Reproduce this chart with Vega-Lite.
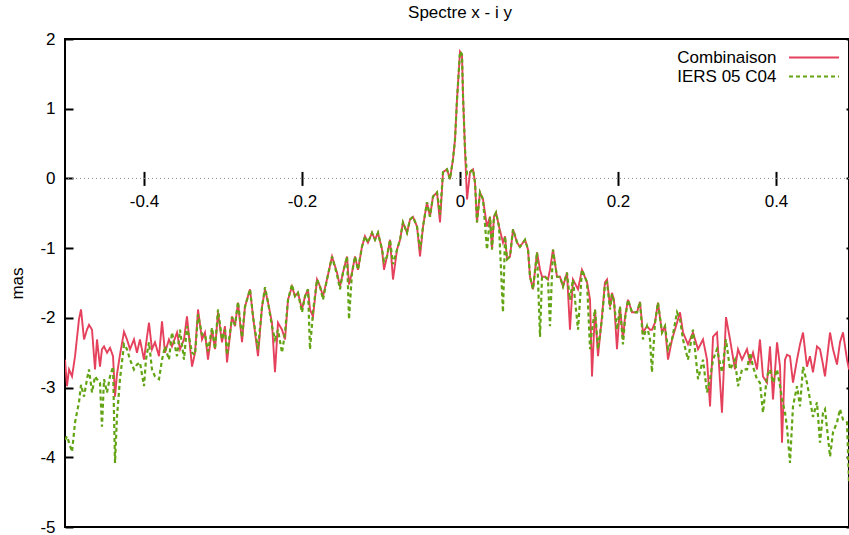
{
 "$schema": "https://vega.github.io/schema/vega-lite/v6.json",
 "width": 784, "height": 488,
 "autosize": {"type": "none"},
 "padding": {"left": 65, "top": 39, "right": 0, "bottom": 8},
 "background": "white",
 "title": {"text": "Spectre x - i y", "fontSize": 17, "font": "Liberation Sans", "fontWeight": "normal", "color": "black", "offset": 8, "dx": 3},
 "config": {"view": {"stroke": "black", "strokeWidth": 2}, "font": "Liberation Sans"},
 "datasets": {"spec": [
  {"x": -0.5, "c": -2.6, "i": -3.75}, {"x": -0.4975, "c": -2.98, "i": -3.7}, {"x": -0.4949, "c": -2.74, "i": -3.79},
  {"x": -0.4911, "c": -2.84, "i": -3.92}, {"x": -0.4873, "c": -2.55, "i": -3.5}, {"x": -0.4823, "c": -2.02, "i": -3.21},
  {"x": -0.4797, "c": -1.88, "i": -2.96}, {"x": -0.4759, "c": -2.31, "i": -3.13}, {"x": -0.4722, "c": -2.17, "i": -2.88},
  {"x": -0.4696, "c": -2.1, "i": -2.74}, {"x": -0.4658, "c": -2.17, "i": -3.07}, {"x": -0.462, "c": -2.74, "i": -2.84},
  {"x": -0.4595, "c": -2.31, "i": -2.88}, {"x": -0.4557, "c": -2.7, "i": -2.93}, {"x": -0.4532, "c": -2.45, "i": -3.56},
  {"x": -0.4506, "c": -2.41, "i": -2.88}, {"x": -0.4468, "c": -2.5, "i": -3.07}, {"x": -0.443, "c": -2.43, "i": -2.84},
  {"x": -0.4392, "c": -2.55, "i": -2.7}, {"x": -0.4367, "c": -3.13, "i": -4.08}, {"x": -0.4342, "c": -2.81, "i": -3.42},
  {"x": -0.4304, "c": -2.53, "i": -2.88}, {"x": -0.4253, "c": -2.2, "i": -2.38}, {"x": -0.4215, "c": -2.31, "i": -2.45},
  {"x": -0.4177, "c": -2.45, "i": -2.6}, {"x": -0.4127, "c": -2.31, "i": -2.74}, {"x": -0.4089, "c": -2.5, "i": -2.67},
  {"x": -0.4051, "c": -2.31, "i": -2.64}, {"x": -0.4, "c": -2.6, "i": -2.98}, {"x": -0.3975, "c": -2.38, "i": -2.6},
  {"x": -0.3937, "c": -2.07, "i": -2.35}, {"x": -0.3899, "c": -2.45, "i": -2.74}, {"x": -0.3861, "c": -2.35, "i": -2.84},
  {"x": -0.381, "c": -2.55, "i": -2.88}, {"x": -0.3772, "c": -2.05, "i": -2.6}, {"x": -0.3734, "c": -2.5, "i": -2.41},
  {"x": -0.3684, "c": -2.31, "i": -2.6}, {"x": -0.3646, "c": -2.41, "i": -2.21}, {"x": -0.3582, "c": -2.21, "i": -2.55},
  {"x": -0.3544, "c": -2.45, "i": -2.17}, {"x": -0.3494, "c": -2.31, "i": -2.6}, {"x": -0.3456, "c": -1.98, "i": -2.12},
  {"x": -0.3392, "c": -2.7, "i": -2.5}, {"x": -0.3354, "c": -2.5, "i": -2.53}, {"x": -0.3316, "c": -1.88, "i": -1.95},
  {"x": -0.3266, "c": -2.31, "i": -2.24}, {"x": -0.3228, "c": -2.21, "i": -2.24}, {"x": -0.319, "c": -2.6, "i": -2.48},
  {"x": -0.3139, "c": -2.17, "i": -2.14}, {"x": -0.3101, "c": -2.45, "i": -2.45}, {"x": -0.3063, "c": -1.92, "i": -1.88},
  {"x": -0.3013, "c": -2.35, "i": -2.31}, {"x": -0.2975, "c": -2.12, "i": -2.17}, {"x": -0.2949, "c": -2.64, "i": -2.53},
  {"x": -0.2886, "c": -1.98, "i": -1.99}, {"x": -0.2848, "c": -2.12, "i": -2.1}, {"x": -0.281, "c": -1.78, "i": -1.77},
  {"x": -0.2759, "c": -2.35, "i": -2.28}, {"x": -0.2722, "c": -1.84, "i": -1.84}, {"x": -0.2658, "c": -1.59, "i": -1.59},
  {"x": -0.262, "c": -1.98, "i": -1.98}, {"x": -0.2557, "c": -2.55, "i": -2.45}, {"x": -0.2506, "c": -1.84, "i": -1.84},
  {"x": -0.2468, "c": -1.59, "i": -1.56}, {"x": -0.243, "c": -1.78, "i": -1.78}, {"x": -0.238, "c": -2.07, "i": -2.12},
  {"x": -0.2342, "c": -2.78, "i": -2.31}, {"x": -0.2304, "c": -2.07, "i": -2.17}, {"x": -0.2253, "c": -2.17, "i": -2.5},
  {"x": -0.2215, "c": -2.31, "i": -2.21}, {"x": -0.2177, "c": -1.74, "i": -1.74}, {"x": -0.2127, "c": -1.55, "i": -1.52},
  {"x": -0.2089, "c": -1.69, "i": -1.69}, {"x": -0.2051, "c": -1.64, "i": -1.64}, {"x": -0.2, "c": -1.88, "i": -1.92},
  {"x": -0.1962, "c": -1.69, "i": -1.69}, {"x": -0.1924, "c": -1.59, "i": -1.59}, {"x": -0.1899, "c": -1.88, "i": -2.45},
  {"x": -0.1861, "c": -1.98, "i": -1.92}, {"x": -0.181, "c": -1.45, "i": -1.45}, {"x": -0.1772, "c": -1.55, "i": -1.55},
  {"x": -0.1734, "c": -1.69, "i": -1.74}, {"x": -0.1684, "c": -1.45, "i": -1.45}, {"x": -0.162, "c": -1.12, "i": -1.12},
  {"x": -0.1557, "c": -1.35, "i": -1.38}, {"x": -0.1519, "c": -1.55, "i": -1.59}, {"x": -0.1481, "c": -1.35, "i": -1.35},
  {"x": -0.143, "c": -1.12, "i": -1.12}, {"x": -0.1405, "c": -1.52, "i": -2.02}, {"x": -0.1367, "c": -1.35, "i": -1.35},
  {"x": -0.1329, "c": -1.12, "i": -1.12}, {"x": -0.1291, "c": -1.31, "i": -1.31}, {"x": -0.1241, "c": -0.98, "i": -0.98},
  {"x": -0.1203, "c": -0.83, "i": -0.83}, {"x": -0.1165, "c": -0.92, "i": -0.92}, {"x": -0.1114, "c": -0.78, "i": -0.78},
  {"x": -0.1076, "c": -0.88, "i": -0.88}, {"x": -0.1038, "c": -0.78, "i": -0.78}, {"x": -0.0987, "c": -1.02, "i": -1.02},
  {"x": -0.0962, "c": -1.31, "i": -1.19}, {"x": -0.0924, "c": -1.12, "i": -1.12}, {"x": -0.0886, "c": -0.88, "i": -0.88},
  {"x": -0.0848, "c": -1.45, "i": -1.23}, {"x": -0.0797, "c": -1.02, "i": -1.02}, {"x": -0.0759, "c": -0.88, "i": -0.88},
  {"x": -0.0722, "c": -0.63, "i": -0.63}, {"x": -0.0671, "c": -0.78, "i": -0.78}, {"x": -0.0633, "c": -0.59, "i": -0.59},
  {"x": -0.0595, "c": -0.55, "i": -0.55}, {"x": -0.0544, "c": -0.69, "i": -0.69}, {"x": -0.0506, "c": -1.12, "i": -1.02},
  {"x": -0.0468, "c": -0.69, "i": -0.69}, {"x": -0.0418, "c": -0.34, "i": -0.34}, {"x": -0.038, "c": -0.55, "i": -0.55},
  {"x": -0.0342, "c": -0.26, "i": -0.26}, {"x": -0.0291, "c": -0.2, "i": -0.2}, {"x": -0.0253, "c": -0.63, "i": -0.52},
  {"x": -0.0215, "c": 0.09, "i": 0.09}, {"x": -0.0165, "c": 0.13, "i": 0.13}, {"x": -0.0127, "c": -0.01, "i": -0.01},
  {"x": -0.0089, "c": 0.27, "i": 0.27}, {"x": -0.0063, "c": 0.56, "i": 0.56}, {"x": -0.0038, "c": 1.13, "i": 1.13},
  {"x": 0, "c": 1.82, "i": 1.82}, {"x": 0.0025, "c": 1.78, "i": 1.78}, {"x": 0.0038, "c": 1.2, "i": 1.2},
  {"x": 0.0063, "c": 0.42, "i": 0.42}, {"x": 0.0089, "c": -0.3, "i": 0.06}, {"x": 0.0127, "c": 0.09, "i": 0.09},
  {"x": 0.0165, "c": 0.13, "i": 0.13}, {"x": 0.019, "c": -0.06, "i": -0.06}, {"x": 0.0215, "c": -0.63, "i": -0.63},
  {"x": 0.0253, "c": -0.2, "i": -0.2}, {"x": 0.0291, "c": -0.3, "i": -0.3}, {"x": 0.0342, "c": -0.69, "i": -1.02},
  {"x": 0.038, "c": -0.55, "i": -0.55}, {"x": 0.0405, "c": -1.02, "i": -1.02}, {"x": 0.043, "c": -0.55, "i": -0.55},
  {"x": 0.0456, "c": -0.49, "i": -0.49}, {"x": 0.0494, "c": -0.69, "i": -0.69}, {"x": 0.0544, "c": -0.92, "i": -1.92},
  {"x": 0.057, "c": -0.83, "i": -0.83}, {"x": 0.0595, "c": -1.16, "i": -1.16}, {"x": 0.0633, "c": -1.12, "i": -1.12},
  {"x": 0.0671, "c": -0.73, "i": -0.73}, {"x": 0.0722, "c": -0.92, "i": -0.92}, {"x": 0.0759, "c": -0.98, "i": -0.98},
  {"x": 0.0823, "c": -0.88, "i": -0.88}, {"x": 0.0861, "c": -1.02, "i": -1.02}, {"x": 0.0886, "c": -1.41, "i": -1.41},
  {"x": 0.0924, "c": -1.59, "i": -1.59}, {"x": 0.0975, "c": -1.06, "i": -1.06}, {"x": 0.1013, "c": -1.31, "i": -2.27},
  {"x": 0.1038, "c": -1.41, "i": -1.41}, {"x": 0.1076, "c": -1.41, "i": -1.41}, {"x": 0.1114, "c": -1.45, "i": -1.45},
  {"x": 0.1139, "c": -1.31, "i": -2.12}, {"x": 0.1177, "c": -1.02, "i": -1.02}, {"x": 0.1228, "c": -1.41, "i": -1.41},
  {"x": 0.1266, "c": -1.41, "i": -1.41}, {"x": 0.1304, "c": -1.55, "i": -1.55}, {"x": 0.1354, "c": -1.35, "i": -1.35},
  {"x": 0.1392, "c": -2.17, "i": -1.74}, {"x": 0.143, "c": -1.45, "i": -1.45}, {"x": 0.1494, "c": -1.59, "i": -2.17},
  {"x": 0.1544, "c": -1.31, "i": -1.31}, {"x": 0.1608, "c": -1.49, "i": -1.49}, {"x": 0.1646, "c": -1.74, "i": -2.45},
  {"x": 0.1671, "c": -2.84, "i": -2.17}, {"x": 0.1709, "c": -1.88, "i": -1.88}, {"x": 0.1747, "c": -2.55, "i": -2.45},
  {"x": 0.1797, "c": -1.98, "i": -2.02}, {"x": 0.1835, "c": -1.49, "i": -1.52}, {"x": 0.1861, "c": -1.45, "i": -1.49},
  {"x": 0.1899, "c": -1.84, "i": -1.88}, {"x": 0.1924, "c": -1.64, "i": -1.66}, {"x": 0.1949, "c": -1.74, "i": -1.77},
  {"x": 0.1987, "c": -2.45, "i": -2.17}, {"x": 0.2025, "c": -1.84, "i": -1.84}, {"x": 0.2063, "c": -2.31, "i": -2.38},
  {"x": 0.2089, "c": -1.98, "i": -2.02}, {"x": 0.2127, "c": -1.74, "i": -1.74}, {"x": 0.2177, "c": -1.92, "i": -1.92},
  {"x": 0.2241, "c": -1.92, "i": -1.92}, {"x": 0.2278, "c": -1.77, "i": -1.77}, {"x": 0.2316, "c": -2.21, "i": -2.31},
  {"x": 0.2367, "c": -2.12, "i": -2.12}, {"x": 0.2405, "c": -2.17, "i": -2.31}, {"x": 0.243, "c": -2.17, "i": -2.78},
  {"x": 0.2468, "c": -2.07, "i": -2.07}, {"x": 0.2506, "c": -1.78, "i": -1.78}, {"x": 0.2557, "c": -2.21, "i": -2.21},
  {"x": 0.2595, "c": -2.12, "i": -2.12}, {"x": 0.2633, "c": -2.6, "i": -2.45}, {"x": 0.2684, "c": -2.31, "i": -2.31},
  {"x": 0.2747, "c": -2.07, "i": -1.92}, {"x": 0.2785, "c": -1.92, "i": -2.02}, {"x": 0.2823, "c": -2.21, "i": -2.31},
  {"x": 0.2886, "c": -2.38, "i": -2.6}, {"x": 0.2949, "c": -2.21, "i": -2.17}, {"x": 0.3013, "c": -2.45, "i": -2.88},
  {"x": 0.3076, "c": -2.31, "i": -2.6}, {"x": 0.3127, "c": -2.6, "i": -3.07}, {"x": 0.3165, "c": -3.27, "i": -2.88},
  {"x": 0.3203, "c": -2.27, "i": -2.6}, {"x": 0.3253, "c": -2.21, "i": -2.45}, {"x": 0.3316, "c": -3.36, "i": -2.78},
  {"x": 0.3367, "c": -1.99, "i": -2.31}, {"x": 0.3418, "c": -2.31, "i": -2.74}, {"x": 0.3481, "c": -2.74, "i": -2.6},
  {"x": 0.3519, "c": -2.45, "i": -2.98}, {"x": 0.357, "c": -2.6, "i": -2.74}, {"x": 0.3633, "c": -2.45, "i": -2.74},
  {"x": 0.3671, "c": -2.64, "i": -2.5}, {"x": 0.3709, "c": -2.5, "i": -2.7}, {"x": 0.3759, "c": -2.74, "i": -2.88},
  {"x": 0.3797, "c": -2.31, "i": -2.93}, {"x": 0.3835, "c": -2.84, "i": -3.36}, {"x": 0.3886, "c": -2.93, "i": -2.84},
  {"x": 0.3924, "c": -2.41, "i": -2.74}, {"x": 0.3962, "c": -3.17, "i": -2.93}, {"x": 0.4013, "c": -2.35, "i": -2.74},
  {"x": 0.4051, "c": -2.7, "i": -2.98}, {"x": 0.4076, "c": -3.79, "i": -3.17}, {"x": 0.4114, "c": -2.6, "i": -3.36},
  {"x": 0.4139, "c": -2.53, "i": -3.56}, {"x": 0.4177, "c": -2.55, "i": -4.08}, {"x": 0.4215, "c": -2.93, "i": -3.27},
  {"x": 0.4266, "c": -2.6, "i": -2.98}, {"x": 0.4304, "c": -2.38, "i": -3.27}, {"x": 0.4342, "c": -2.21, "i": -2.7},
  {"x": 0.4392, "c": -2.7, "i": -2.93}, {"x": 0.443, "c": -2.55, "i": -3.17}, {"x": 0.4468, "c": -2.78, "i": -3.42},
  {"x": 0.4519, "c": -2.41, "i": -3.21}, {"x": 0.4557, "c": -2.45, "i": -3.79}, {"x": 0.4595, "c": -2.67, "i": -3.36},
  {"x": 0.462, "c": -2.84, "i": -3.31}, {"x": 0.4684, "c": -2.21, "i": -3.99}, {"x": 0.4722, "c": -2.45, "i": -3.64},
  {"x": 0.4772, "c": -2.67, "i": -3.5}, {"x": 0.481, "c": -2.35, "i": -3.31}, {"x": 0.4848, "c": -2.21, "i": -3.46},
  {"x": 0.4899, "c": -2.6, "i": -3.5}, {"x": 0.4924, "c": -2.74, "i": -4.36}, {"x": 0.4975, "c": -2.45, "i": -3.89}
 ]},
 "data": {"name": "spec"},
 "layer": [
  {
   "data": {"values": [{"z": 0}]},
   "mark": {"type": "rule", "color": "#8a8a8a", "strokeDash": [1, 3], "strokeWidth": 1},
   "encoding": {"y": {"datum": 0, "type": "quantitative", "scale": {"domain": [-5, 2], "nice": false, "zero": false}, "axis": null}}
  },
  {
   "transform": [{"fold": ["c", "i"], "as": ["s", "v"]}, {"filter": "datum.s == 'c'"}],
   "mark": {"type": "line", "strokeWidth": 1.9, "clip": true},
   "encoding": {
    "x": {"field": "x", "type": "quantitative", "scale": {"domain": [-0.5, 0.4924], "nice": false, "zero": false},
      "axis": {"orient": "bottom", "offset": -348.6, "values": [-0.4, -0.2, 0, 0.2, 0.4], "labelExpr": "toString(datum.value)", "domain": false, "grid": false, "tickSize": 7, "tickWidth": 2, "tickColor": "black", "labelFontSize": 17, "labelFont": "Liberation Sans", "labelColor": "black", "labelPadding": 8, "title": null}},
    "y": {"field": "v", "type": "quantitative", "scale": {"domain": [-5, 2], "nice": false, "zero": false},
      "axis": {"orient": "left", "values": [-5, -4, -3, -2, -1, 0, 1, 2], "labelExpr": "toString(datum.value)", "domain": false, "grid": false, "tickSize": -8, "tickWidth": 2, "tickColor": "black", "labelFontSize": 17, "labelFont": "Liberation Sans", "labelColor": "black", "labelPadding": 18, "title": "mas", "titleFontSize": 17, "titleFont": "Liberation Sans", "titleFontWeight": "normal", "titleColor": "black", "titlePadding": 13}},
    "color": {"field": "s", "type": "nominal", "scale": {"domain": ["c", "i"], "range": ["#e5405c", "#62a414"]},
      "legend": {"orient": "none", "legendX": 740.5, "legendY": 10, "title": null, "padding": 0, "rowPadding": 1, "symbolType": "M-5,0H5", "symbolSize": 100, "symbolStrokeWidth": 1.8, "labelAlign": "right", "labelOffset": -46, "labelFontSize": 17, "labelFont": "Liberation Sans", "labelColor": "black", "labelExpr": "datum.label == 'c' ? 'Combinaison' : 'IERS 05 C04'"}},
    "strokeDash": {"field": "s", "type": "nominal", "scale": {"domain": ["c", "i"], "range": [[1, 0], [4, 3]]},
      "legend": {"orient": "none", "legendX": 740.5, "legendY": 10, "title": null, "padding": 0, "rowPadding": 1, "symbolType": "M-5,0H5", "symbolSize": 100, "symbolStrokeWidth": 1.8, "labelAlign": "right", "labelOffset": -46, "labelFontSize": 17, "labelFont": "Liberation Sans", "labelColor": "black", "labelExpr": "datum.label == 'c' ? 'Combinaison' : 'IERS 05 C04'"}}
   }
  },
  {
   "transform": [{"fold": ["c", "i"], "as": ["s", "v"]}, {"filter": "datum.s == 'i'"}],
   "mark": {"type": "line", "strokeWidth": 2.2, "clip": true},
   "encoding": {
    "x": {"field": "x", "type": "quantitative",
      "axis": {"orient": "top", "offset": -139.4, "values": [-0.4, -0.2, 0, 0.2, 0.4], "labels": false, "domain": false, "grid": false, "tickSize": 7, "tickWidth": 2, "tickColor": "black", "title": null}},
    "y": {"field": "v", "type": "quantitative",
      "axis": {"orient": "right", "values": [-5, -4, -3, -2, -1, 0, 1, 2], "labels": false, "domain": false, "grid": false, "tickSize": -3, "tickWidth": 2, "tickColor": "black", "title": null}},
    "color": {"field": "s", "type": "nominal"},
    "strokeDash": {"field": "s", "type": "nominal"}
   }
  }
 ],
 "resolve": {"axis": {"x": "independent", "y": "independent"}}
}
